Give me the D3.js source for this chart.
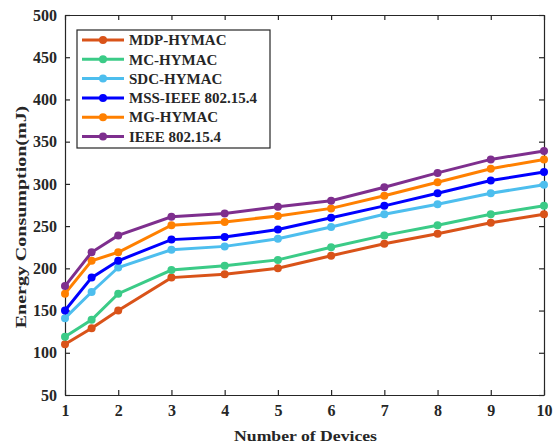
<!DOCTYPE html>
<html>
<head>
<meta charset="utf-8">
<script src="https://cdn.jsdelivr.net/npm/d3@7"></script>
<style>
  body { margin: 0; background: #fff; }
  text { font-family: "Liberation Serif", "Times New Roman", serif; font-weight: bold; fill: #262626; }
</style>
</head>
<body>
<div id="chart"></div>
<script>
// devices on the x axis
var devices = [1, 1.5, 2, 3, 4, 5, 6, 7, 8, 9, 10];

var series_names = ["MDP-HYMAC", "MC-HYMAC", "SDC-HYMAC", "MSS-IEEE 802.15.4", "MG-HYMAC", "IEEE 802.15.4"];
var series_colors = ["#D95319", "#3BCB87", "#4DBEEE", "#0000FF", "#FF8000", "#7E2F8E"];

var mdp_hymac = [110, 129, 150, 189, 193, 200, 215, 229, 241, 254, 264];
var mc_hymac = [119, 139, 170, 198, 203, 210, 225, 239, 251, 264, 274];
var sdc_hymac = [141, 172, 201, 222, 226, 235, 249, 264, 276, 289, 299];
var mss_ieee = [150, 189, 209, 234, 237, 246, 260, 274, 289, 304, 314];
var mg_hymac = [170, 209, 219, 251, 255, 262, 271, 286, 302, 318, 329];
var ieee_802154 = [179, 219, 239, 261, 265, 273, 280, 296, 313, 329, 339];

var x_ticks = [1, 2, 3, 4, 5, 6, 7, 8, 9, 10];
var y_ticks = [50, 100, 150, 200, 250, 300, 350, 400, 450, 500];

var all_series = [mdp_hymac, mc_hymac, sdc_hymac, mss_ieee, mg_hymac, ieee_802154];

function energy_chart() {
    var width = 553, height = 445;
    var margin = { top: 15, right: 9, bottom: 50, left: 65 };
    var w = width - margin.left - margin.right;
    var h = height - margin.top - margin.bottom;

    var svg = d3.select("#chart")
        .append("svg")
        .attr("width", width)
        .attr("height", height)
        .append("g")
        .attr("transform", "translate(" + margin.left + "," + margin.top + ")");

    var x = d3.scaleLinear().domain([1, 10]).range([0, w]);
    var y = d3.scaleLinear().domain([50, 500]).range([h, 0]);

    // bottom axis, ticks pointing inward
    var xa = svg.append("g")
        .attr("transform", "translate(0," + h + ")")
        .call(d3.axisBottom(x).tickValues(x_ticks).tickSizeInner(-5).tickSizeOuter(0).tickPadding(10).tickFormat(d3.format("d")));
    xa.selectAll("text").style("font-size", "16px").attr("dy", "0.7em");

    // top axis (ticks only)
    svg.append("g")
        .call(d3.axisTop(x).tickValues(x_ticks).tickSizeInner(-5).tickSizeOuter(0).tickFormat(""));

    var ya = svg.append("g")
        .call(d3.axisLeft(y).tickValues(y_ticks).tickSizeInner(-5).tickSizeOuter(0).tickPadding(8));
    ya.selectAll("text").style("font-size", "16px");

    svg.append("g")
        .attr("transform", "translate(" + w + ",0)")
        .call(d3.axisRight(y).tickValues(y_ticks).tickSizeInner(-5).tickSizeOuter(0).tickFormat(""));

    svg.selectAll(".domain, .tick line")
        .attr("stroke", "#262626")
        .attr("stroke-width", 1.2);

    // lines and markers
    var line = d3.line()
        .x(function (d, i) { return x(devices[i]); })
        .y(function (d) { return y(d); });

    all_series.forEach(function (vals, k) {
        svg.append("path")
            .datum(vals)
            .attr("fill", "none")
            .attr("stroke", series_colors[k])
            .attr("stroke-width", 3)
            .attr("d", line);

        svg.selectAll(null)
            .data(vals)
            .enter()
            .append("circle")
            .attr("cx", function (d, i) { return x(devices[i]); })
            .attr("cy", function (d) { return y(d); })
            .attr("r", 4)
            .attr("fill", series_colors[k]);
    });

    // legend
    var lg = svg.append("g").attr("transform", "translate(12,15)");
    lg.append("rect")
        .attr("width", 193)
        .attr("height", 118)
        .attr("fill", "#fff")
        .attr("stroke", "#262626")
        .attr("stroke-width", 1.2);

    series_names.forEach(function (name, k) {
        var ry = 10 + k * 19.3;
        lg.append("line")
            .attr("x1", 5).attr("x2", 47)
            .attr("y1", ry).attr("y2", ry)
            .attr("stroke", series_colors[k])
            .attr("stroke-width", 3);
        lg.append("circle")
            .attr("cx", 26).attr("cy", ry).attr("r", 4)
            .attr("fill", series_colors[k]);
        lg.append("text")
            .attr("x", 52).attr("y", ry)
            .attr("dy", "0.35em")
            .style("font-size", "15px")
            .text(name);
    });

    // axis titles (glyphs in the original are a bit wide, so stretch them)
    svg.append("text")
        .attr("transform", "translate(" + (x(5.5) + 1) + "," + (h + 46) + ") scale(1.14,1)")
        .attr("text-anchor", "middle")
        .style("font-size", "15.5px")
        .text("Number of Devices");

    svg.append("text")
        .attr("transform", "translate(" + (-39) + "," + 202 + ") rotate(-90) scale(1.29,1)")
        .attr("text-anchor", "middle")
        .style("font-size", "15.5px")
        .text("Energy Consumption(mJ)");
}

energy_chart();
</script>
</body>
</html>
